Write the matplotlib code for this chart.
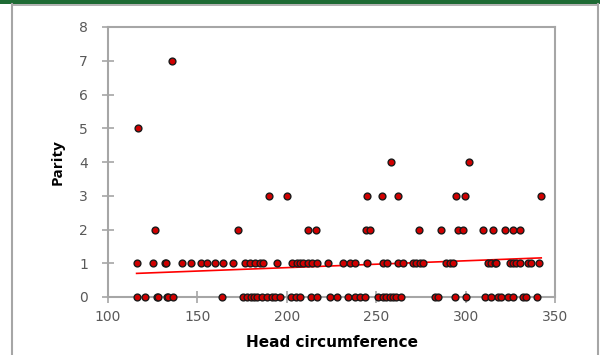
import numpy as np
import matplotlib.pyplot as plt
from matplotlib.patches import Rectangle

# head circumference values, grouped by parity
head_p0 = [116.4, 120.7, 127.2, 128.1, 132.8, 133.7, 136.1, 163.9, 175.6, 177.5, 179.7,
           181.6, 183.1, 185.9, 188.7, 191.5, 193.3, 196.1, 202.6, 205.4, 207.3, 213.8,
           216.8, 224, 227.8, 234.2, 238, 240.8, 243.6, 251, 253.8, 255.7, 257.6, 259.4,
           261.3, 264, 282.7, 284.5, 293.9, 300.4, 310.6, 314.3, 318, 319.9, 323.6,
           326.4, 332, 333.9, 340.1]
head_p1 = [116, 125.3, 131.8, 132.7, 141.2, 146.2, 151.8, 155.1, 159.8, 164.4, 170,
           176.5, 179.3, 182.1, 184.9, 186.6, 194.4, 202.8, 205.6, 207.3, 208.9, 211.7,
           214, 216.8, 222.9, 231.3, 235.2, 238, 244.7, 253.6, 255.9, 262, 265, 270.6,
           272.4, 274.3, 276.1, 289.2, 291, 292.9, 312.4, 314.3, 316.2, 317.1, 324.6,
           326.4, 328.3, 330.2, 334.8, 336.7, 341.3]
head_p2 = [126.3, 172.5, 211.9, 216.6, 244.5, 246.7, 273.7, 286.4, 295.7, 298.4, 309.7,
           315.3, 321.8, 326.4, 330.7]
head_p3 = [189.9, 200.2, 244.9, 253.5, 262.2, 294.4, 299.4, 342.3]
head_p4 = [258.1, 301.7]
head_p5 = [116.9]
head_p7 = [135.6]

# linear trendline as drawn in the original
trend_slope = 0.00203
trend_intercept = 0.464

groups = {0: head_p0, 1: head_p1, 2: head_p2, 3: head_p3, 4: head_p4, 5: head_p5, 7: head_p7}
x = np.concatenate([np.array(v, dtype=float) for v in groups.values()])
y = np.concatenate([np.full(len(v), k, dtype=float) for k, v in groups.items()])

plt.rcParams['font.family'] = ['DejaVu Sans']

fig = plt.figure(figsize=(6, 3.55), dpi=100)

# outer frame + green band at top
fig.patches.append(Rectangle((0, 1 - 4 / 355), 1, 4 / 355, transform=fig.transFigure,
                             facecolor='#1e6b34', edgecolor='none'))
fig.lines.append(plt.Line2D([12 / 600, 12 / 600], [0, 1 - 4 / 355], transform=fig.transFigure,
                            color='#a6a6a6', lw=1.5))
fig.lines.append(plt.Line2D([597.5 / 600, 597.5 / 600], [0, 1 - 4 / 355], transform=fig.transFigure,
                            color='#a6a6a6', lw=1.5))
fig.lines.append(plt.Line2D([12 / 600, 597.5 / 600], [1 - 4.5 / 355, 1 - 4.5 / 355],
                            transform=fig.transFigure, color='#a6a6a6', lw=1.2))

ax = fig.add_axes([108 / 600, 1 - 297 / 355, 447 / 600, 270 / 355])

ax.scatter(x, y, s=24, facecolor='#d00000', edgecolor='#1a1a1a', linewidth=1.0, zorder=3,
           clip_on=False)

xt = np.array([x.min(), x.max()])
ax.plot(xt, trend_slope * xt + trend_intercept, color='#ff0000', lw=1.2, zorder=2)

ax.set_xlim(100, 350)
ax.set_ylim(0, 8)
ax.set_xticks(range(100, 351, 50))
ax.set_yticks(range(0, 9))
for s in ax.spines.values():
    s.set_color('#a6a6a6')
    s.set_linewidth(1.5)
ax.tick_params(direction='inout', length=9, width=1.2, color='#a6a6a6',
               labelcolor='#595959', labelsize=10)
ax.tick_params(axis='y', pad=10)
ax.tick_params(axis='x', pad=5)

ax.set_xlabel('Head circumference', fontsize=11, fontweight='bold', labelpad=8)
ax.set_ylabel('Parity', fontsize=11, fontweight='bold', labelpad=10,
              family=['Open Sans', 'DejaVu Sans'])

fig.savefig('out.png', dpi=100)
